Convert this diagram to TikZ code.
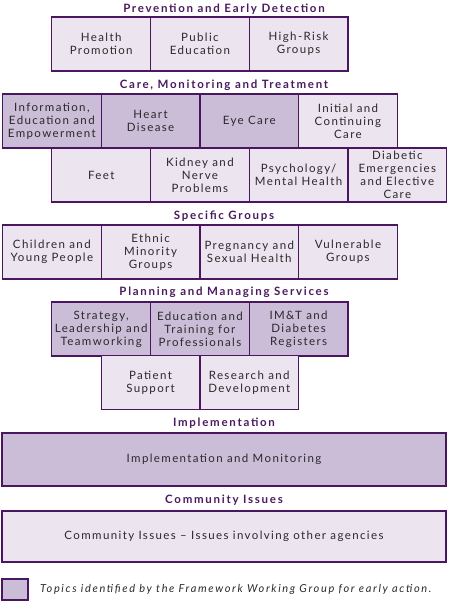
\documentclass[tikz,border=0pt]{standalone}
\usepackage{fontspec}
\setmainfont{Lato}
\newfontfamily\boxfont{Lato}[LetterSpace=12]
\newfontfamily\ttlfont{Lato}[LetterSpace=15]
\newfontfamily\legfont{Lato}[LetterSpace=15]
\definecolor{bord}{HTML}{4B1660}
\definecolor{ttl}{HTML}{4B1A60}
\definecolor{dfill}{HTML}{CBBCD8}
\definecolor{lfill}{HTML}{ECE4EF}
\definecolor{txt}{HTML}{2A2A2A}
\begin{document}
\begin{tikzpicture}[x=1pt,y=-1pt,
  box/.style={draw=bord,line width=1.2pt,minimum width=98.7pt,minimum height=54pt,inner sep=0pt,align=center,font=\boxfont\fontsize{11.5}{13}\selectfont,text=txt},
  dbox/.style={box,fill=dfill},
  lbox/.style={box,fill=lfill},
  ttlstyle/.style={font=\ttlfont\fontsize{11.5}{12}\selectfont\bfseries,text=ttl,inner sep=0pt}]
\useasboundingbox (0,0) rectangle (450,603);
% Prevention
\node[ttlstyle] (t1) at (224,9) {Prevention and Early Detection};
\node[lbox] (hp) at (101.2,44) {Health\\Promotion};
\node[lbox] (pe) at (199.9,44) {Public\\Education};
\node[lbox] (hr) at (298.6,44) {High-Risk\\Groups};
% Care
\node[ttlstyle] (t2) at (224,85) {Care, Monitoring and Treatment};
\node[dbox] (ie) at (51.85,121) {Information,\\Education and\\Empowerment};
\node[dbox] (hd) at (150.55,121) {Heart\\Disease};
\node[dbox] (ec) at (249.25,121) {Eye Care};
\node[lbox] (ic) at (347.95,121) {Initial and\\Continuing\\Care};
\node[lbox] (ft) at (101.2,175) {Feet};
\node[lbox] (kn) at (199.9,175) {Kidney and\\Nerve\\Problems};
\node[lbox] (ps) at (298.6,175) {Psychology/\\Mental Health};
\node[lbox] (de) at (397.3,175) {Diabetic\\Emergencies\\and Elective\\Care};
% Specific groups
\node[ttlstyle] (t3) at (224,216) {Specific Groups};
\node[lbox] (cy) at (51.85,252) {Children and\\Young People};
\node[lbox] (em) at (150.55,252) {Ethnic\\Minority\\Groups};
\node[lbox] (pg) at (249.25,252) {Pregnancy and\\Sexual Health};
\node[lbox] (vg) at (347.95,252) {Vulnerable\\Groups};
% Planning
\node[ttlstyle] (t4) at (224,292) {Planning and Managing Services};
\node[dbox] (sl) at (101.2,329) {Strategy,\\Leadership and\\Teamworking};
\node[dbox] (et) at (199.9,329) {Education and\\Training for\\Professionals};
\node[dbox] (im) at (298.6,329) {IM\&T and\\Diabetes\\Registers};
\node[lbox] (pt) at (150.55,382.5) {Patient\\Support};
\node[lbox] (rd) at (249.25,382.5) {Research and\\Development};
% Implementation
\node[ttlstyle] (t5) at (224,423) {Implementation};
\node[dbox,minimum width=444pt,minimum height=53pt] (ia) at (224,459.5) {Implementation and Monitoring};
% Community
\node[ttlstyle] (t6) at (224,500) {Community Issues};
\node[lbox,minimum width=444pt,minimum height=51pt] (ci) at (224,536.5) {Community Issues – Issues involving other agencies};
% Legend
\node[draw=bord,line width=1.2pt,fill=dfill,minimum width=26pt,minimum height=21pt,inner sep=0pt] (lg) at (15,589.5) {};
\node[anchor=west,inner sep=0pt,font=\legfont\fontsize{11}{12}\selectfont\itshape,text=txt] (lt) at (40,589.5) {Topics identified by the Framework Working Group for early action.};
\end{tikzpicture}
\end{document}
